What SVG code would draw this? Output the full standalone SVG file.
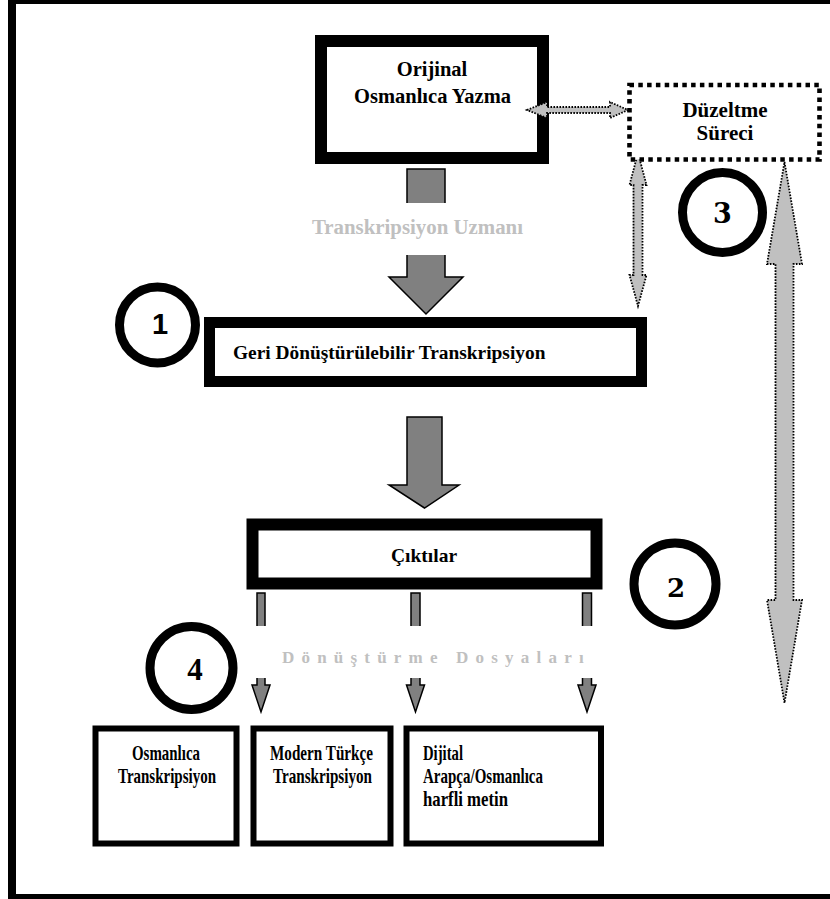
<svg xmlns="http://www.w3.org/2000/svg" width="830" height="899" viewBox="0 0 830 899">
<style>
text{font-family:"Liberation Serif","Times New Roman",serif;font-weight:bold;fill:#000}
.box{fill:#fff;stroke:#000}
.big{fill:#808080;stroke:#000;stroke-width:1.5}
.dot{fill:#c0c0c0;stroke:#000;stroke-width:1.8;stroke-dasharray:1.6 1.4}
.circ{fill:none;stroke:#000;stroke-width:9}
.lbl{fill:#c0c0c0}
.cond{font-size:22px}
</style>
<rect x="0" y="0" width="830" height="899" fill="#fff"/>
<rect id="frame" x="12" y="0" width="840" height="898" fill="none" stroke="#000" stroke-width="8"/>

<g id="connectors">
  <polygon class="big" points="407,169 445,169 445,277 463,277 426,314 389,277 407,277"/>
  <rect x="395" y="203" width="62" height="52" fill="#fff"/>
  <text class="lbl" x="417.5" y="234" font-size="20" text-anchor="middle" textLength="211" lengthAdjust="spacingAndGlyphs">Transkripsiyon Uzmanı</text>
  <polygon class="big" points="407,417 442,417 442,485 459,485 424.5,508 389,485 407,485"/>
  <polygon class="big" points="257,593 265,593 265,685 270,685 261,712 252,685 257,685"/>
  <polygon class="big" points="411,593 420,593 420,685 424.5,685 415.5,712 406.5,685 411,685"/>
  <polygon class="big" points="582.5,593 591.5,593 591.5,685 596,685 587,712 578,685 582.5,685"/>
  <rect x="250" y="626" width="350" height="52" fill="#fff"/>
  <text class="lbl" x="282" y="663" font-size="17" letter-spacing="7.2">Dönüştürme Dosyaları</text>
  <polygon class="dot" points="638,153 646.5,185 642.5,185 642.5,275 646.5,275 638,306 629.5,275 633.5,275 633.5,185 629.5,185"/>
  <polygon class="dot" points="784.5,162 802,264 793.5,264 793.5,600 802,600 784.5,703 767,600 775.5,600 775.5,264 767,264"/>
</g>

<g id="n-orijinal">
  <rect class="box" x="321" y="41" width="222" height="117" stroke-width="12"/>
  <text x="432" y="76" font-size="20.5" text-anchor="middle">Orijinal</text>
  <text x="432.5" y="103" font-size="20.5" text-anchor="middle">Osmanlıca Yazma</text>
</g>

<g id="n-duzeltme">
  <rect x="629.5" y="85" width="190" height="74.5" fill="#fff" stroke="#000" stroke-width="4.6" stroke-dasharray="4.5 4.3"/>
  <text x="725" y="117" font-size="21" text-anchor="middle">Düzeltme</text>
  <text x="725" y="140" font-size="21" text-anchor="middle">Süreci</text>
</g>

<g id="h-arrow">
  <polygon class="dot" points="527,110 547,102 547,107 610,107 610,102 628,110 610,118 610,113 547,113 547,118"/>
</g>

<g id="n-geri">
  <rect class="box" x="209.5" y="322.5" width="432" height="59" stroke-width="11"/>
  <text x="233" y="359" font-size="19.4">Geri Dönüştürülebilir Transkripsiyon</text>
</g>

<g id="n-ciktilar">
  <rect class="box" x="252.5" y="524.5" width="344" height="59" stroke-width="12"/>
  <text x="424" y="562" font-size="19.5" text-anchor="middle">Çıktılar</text>
</g>

<g id="n-osmanlica">
  <rect class="box" x="95.5" y="728.5" width="141" height="115" stroke-width="6"/>
  <text class="cond" x="166" y="760" text-anchor="middle" textLength="68" lengthAdjust="spacingAndGlyphs">Osmanlıca</text>
  <text class="cond" x="167" y="783" text-anchor="middle" textLength="98" lengthAdjust="spacingAndGlyphs">Transkripsiyon</text>
</g>

<g id="n-modern">
  <rect class="box" x="253.5" y="728.5" width="137" height="115" stroke-width="6"/>
  <text class="cond" x="321.5" y="760" text-anchor="middle" textLength="103" lengthAdjust="spacingAndGlyphs">Modern Türkçe</text>
  <text class="cond" x="322.5" y="783" text-anchor="middle" textLength="99" lengthAdjust="spacingAndGlyphs">Transkripsiyon</text>
</g>

<g id="n-dijital">
  <rect class="box" x="406.5" y="728.5" width="194.5" height="115" stroke-width="6"/>
  <text class="cond" x="423" y="760" textLength="40" lengthAdjust="spacingAndGlyphs">Dijital</text>
  <text class="cond" x="423" y="783" textLength="120" lengthAdjust="spacingAndGlyphs">Arapça/Osmanlıca</text>
  <text class="cond" x="423" y="806" textLength="85" lengthAdjust="spacingAndGlyphs">harfli metin</text>
</g>

<g id="c1">
  <circle class="circ" cx="157.5" cy="325" r="38"/>
  <text x="160" y="334" font-size="29" text-anchor="middle" style="font-family:'Liberation Sans',Arial,sans-serif">1</text>
</g>
<g id="c2">
  <circle class="circ" cx="675" cy="584" r="41"/>
  <text x="676" y="597" font-size="26" text-anchor="middle" style="font-family:'DejaVu Serif',serif">2</text>
</g>
<g id="c3">
  <circle class="circ" cx="722.5" cy="212.5" r="40"/>
  <text x="722.5" y="223" font-size="27" text-anchor="middle" style="font-family:'DejaVu Serif',serif">3</text>
</g>
<g id="c4">
  <circle class="circ" cx="191.5" cy="668" r="41.5"/>
  <text x="195" y="680" font-size="31" text-anchor="middle">4</text>
</g>
</svg>
